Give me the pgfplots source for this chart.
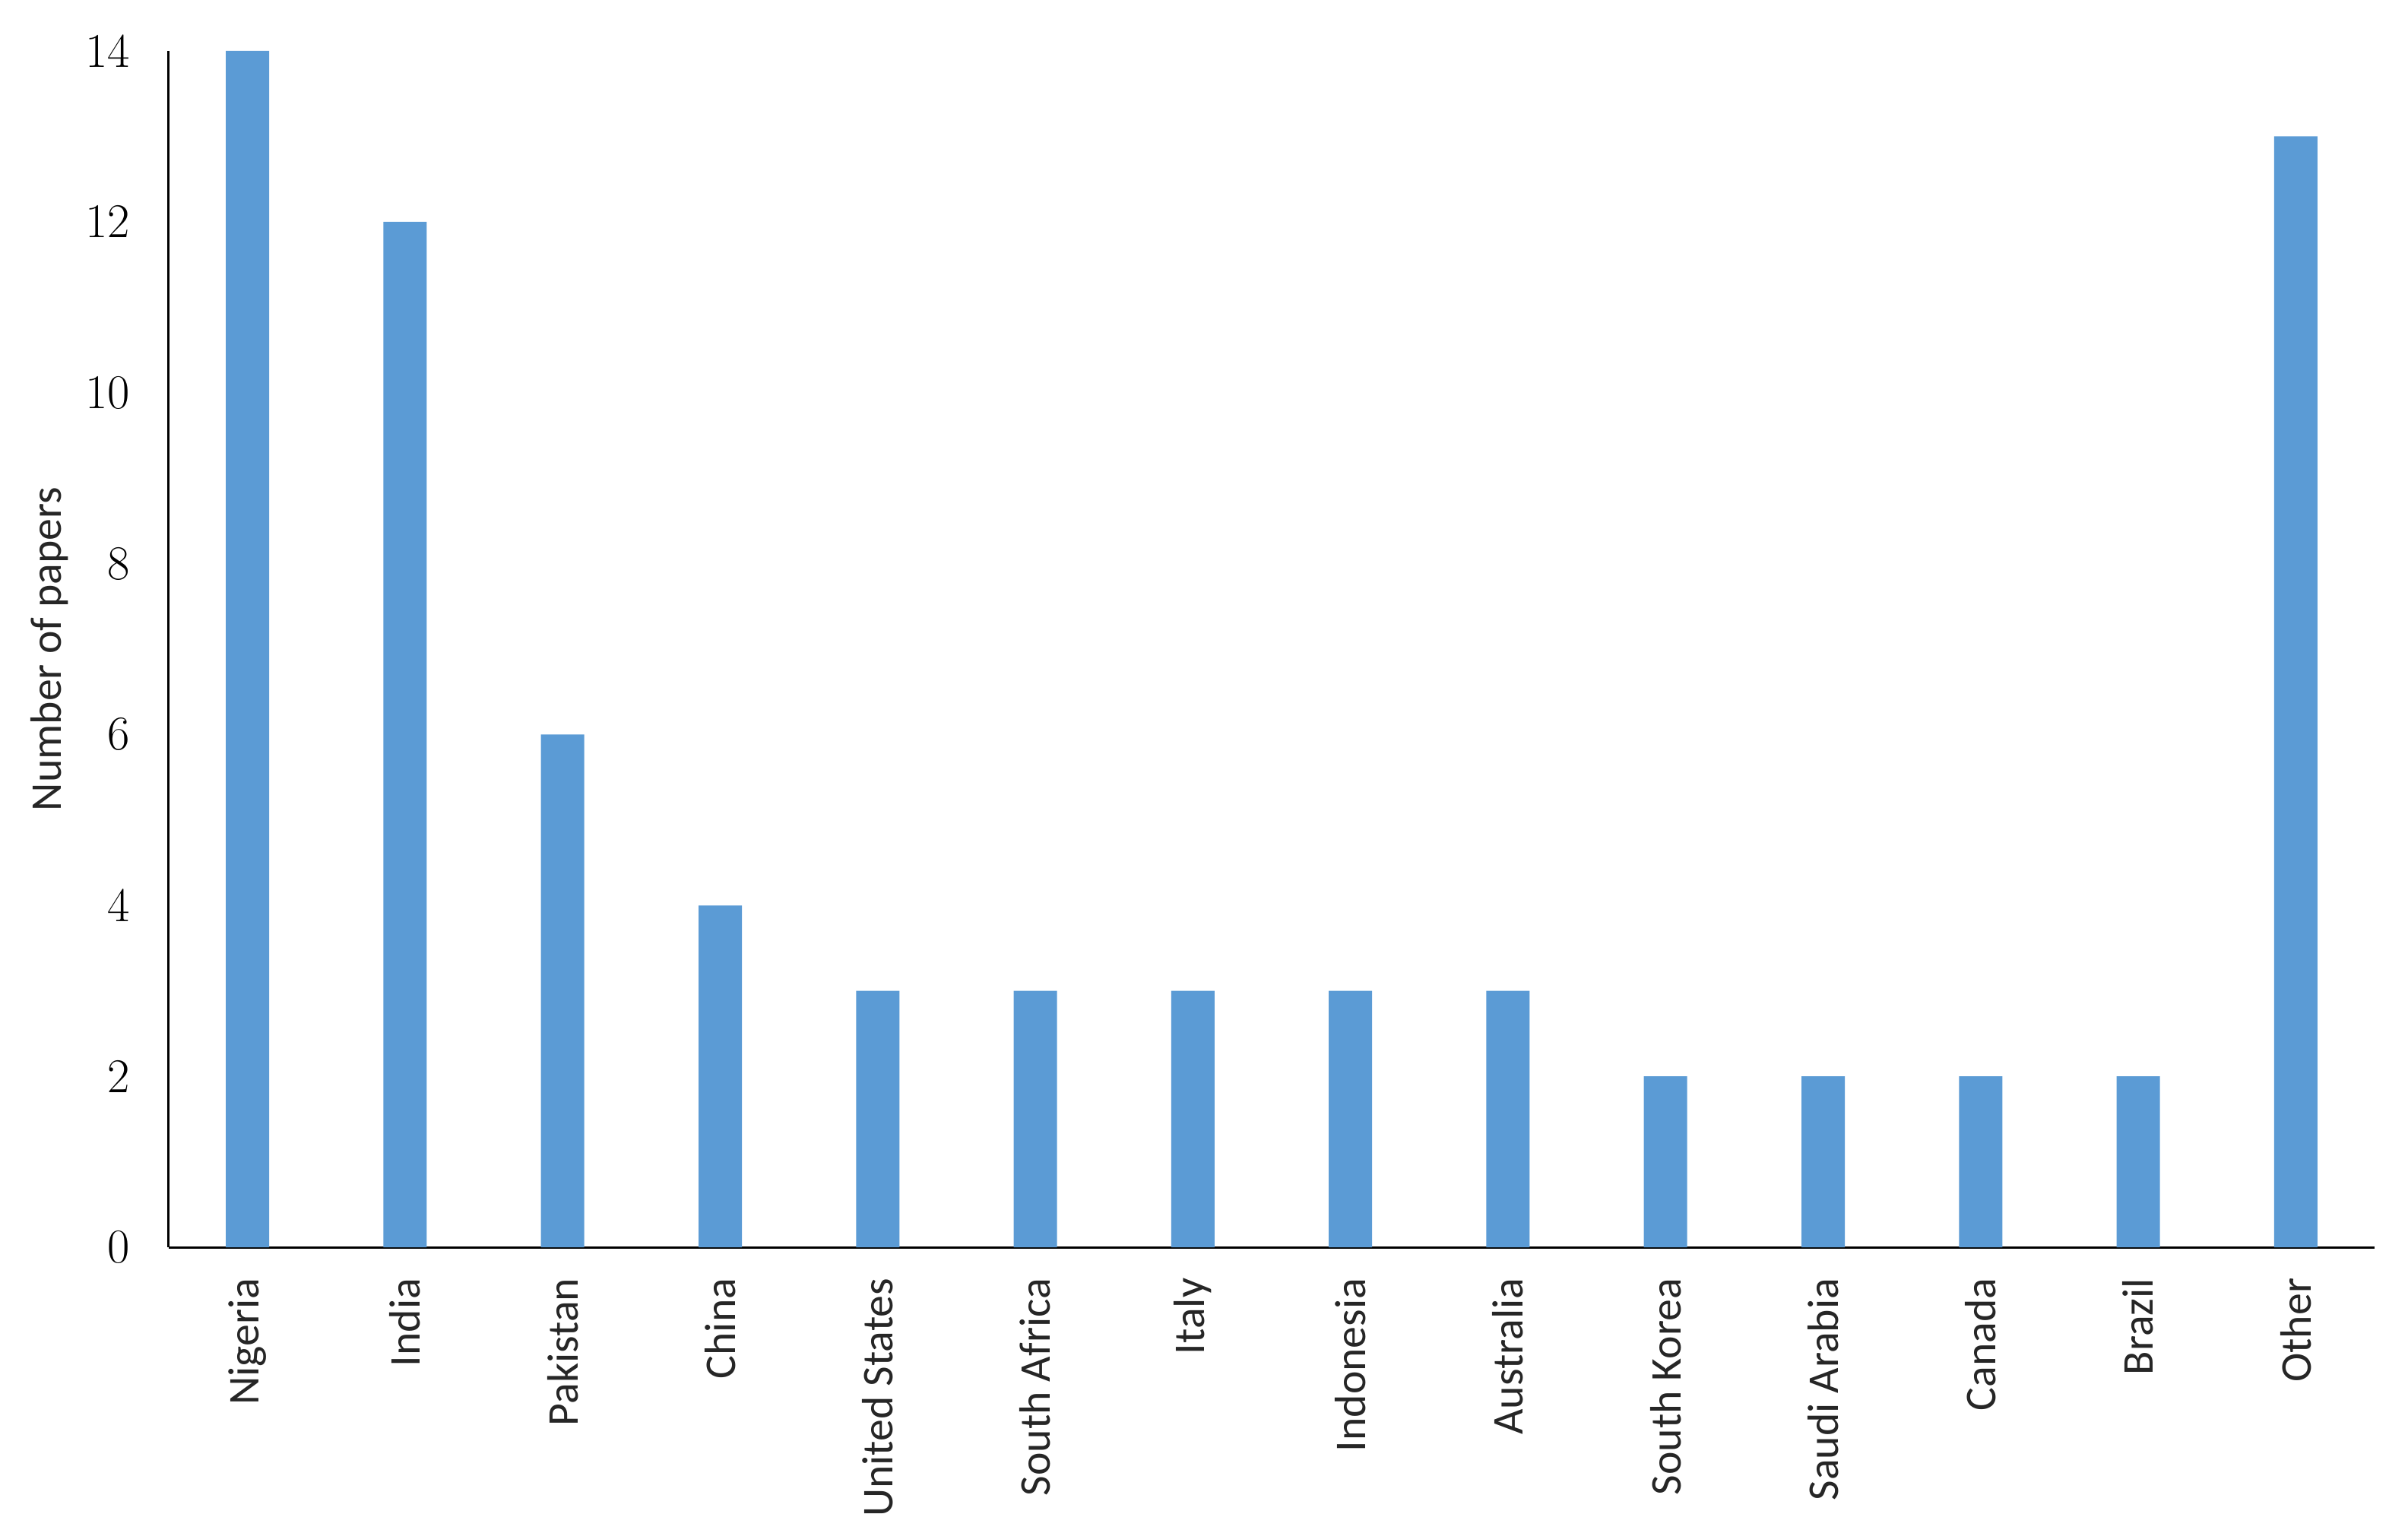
\documentclass[border=0pt]{standalone}
\usepackage{fontspec}
\setmainfont{Carlito}
\newfontfamily\numfont{Latin Modern Roman}
\usepackage{pgfplots}
\pgfplotsset{compat=1.18}
\definecolor{barblue}{RGB}{91,155,213}
\begin{document}
\begin{tikzpicture}
\path[use as bounding box] (-55.5bp,-94bp) rectangle (736.5bp,410.25bp);
\begin{axis}[
  at={(0,0)}, anchor=south west,
  scale only axis,
  width=725.5bp, height=393.5bp,
  xmin=-0.5, xmax=13.5, ymin=0, ymax=14,
  axis x line=bottom, axis y line=left,
  axis line style={-, black, line width=0.75bp},
  major tick length=0pt,
  xtick={0,...,13},
  xticklabels={Nigeria,India,Pakistan,China,United States,South Africa,Italy,Indonesia,Australia,South Korea,Saudi Arabia,Canada,Brazil,Other},
  ytick={0,2,...,14},
  /pgf/number format/assume math mode=true,
  xticklabel style={rotate=90, anchor=east, inner sep=0pt, xshift=-10bp, font=\fontsize{14.5}{16}\selectfont, text=black!85},
  yticklabel style={inner sep=0pt, xshift=-12.5bp, font=\numfont\fontsize{16}{18}\selectfont},
  ylabel={Number of papers},
  ylabel style={at={(axis description cs:-0.0541,0.5)}, anchor=center, font=\fontsize{14.5}{16}\selectfont, text=black!85},
  ybar, bar width=14.25bp,
  clip=false,
]
\addplot[fill=barblue, draw=none] coordinates {
(0,14) (1,12) (2,6) (3,4) (4,3) (5,3) (6,3) (7,3) (8,3) (9,2) (10,2) (11,2) (12,2) (13,13)
};
\end{axis}
\end{tikzpicture}
\end{document}
